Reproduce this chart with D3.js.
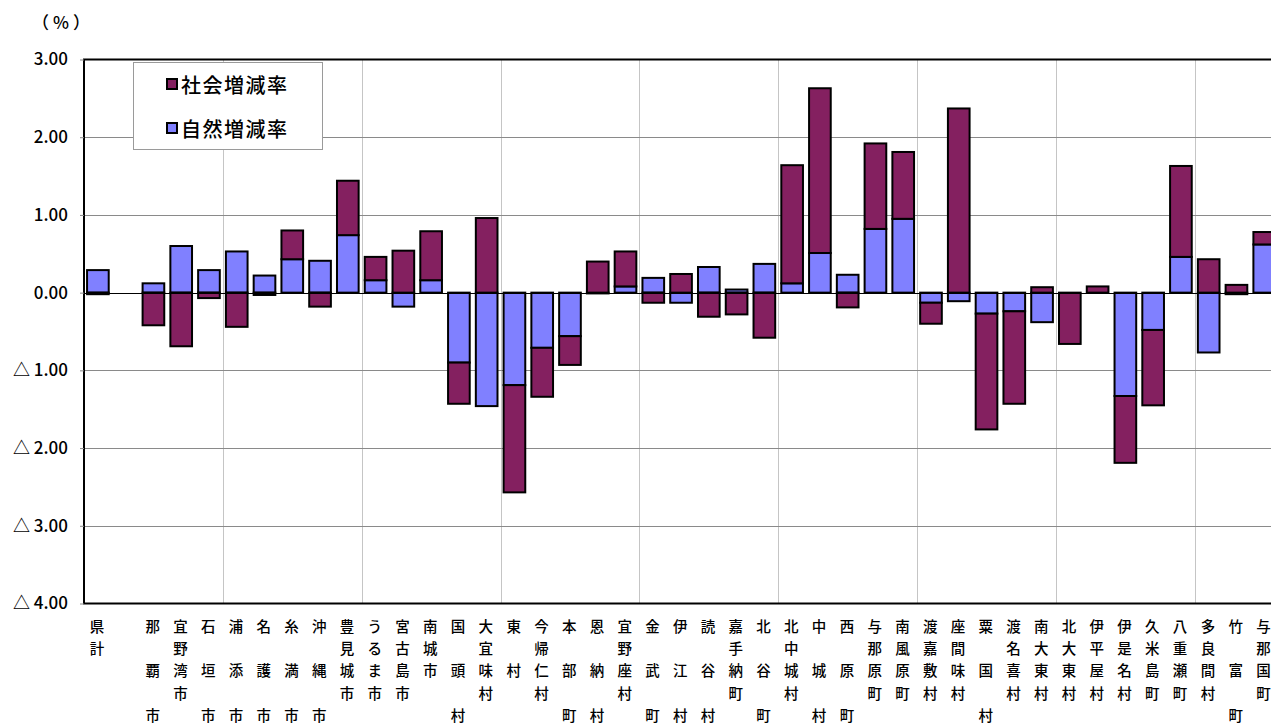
<!DOCTYPE html>
<html>
<head>
<meta charset="utf-8">
<script src="https://cdn.jsdelivr.net/npm/d3@7"></script>
<style>
  html, body { margin: 0; padding: 0; background: #fff; }
  svg { display: block; }
  text { font-family: "Noto Sans CJK JP", "Noto Sans", sans-serif; fill: #000; }
</style>
</head>
<body>
<svg id="chart" width="1271" height="725"></svg>
<script>
// ---- data ----
const categories = ["県計","","那　覇　市","宜野湾市","石　垣　市","浦　添　市","名　護　市","糸　満　市","沖　縄　市","豊見城市","うるま市","宮古島市","南城市","国　頭　村","大宜味村","東　村","今帰仁村","本　部　町","恩　納　村","宜野座村","金　武　町","伊　江　村","読　谷　村","嘉手納町","北　谷　町","北中城村","中　城　村","西　原　町","与那原町","南風原町","渡嘉敷村","座間味村","粟　国　村","渡名喜村","南大東村","北大東村","伊平屋村","伊是名村","久米島町","八重瀬町","多良間村","竹　富　町","与那国町"];
const naturalRate = [0.29,0,0.12,0.60,0.29,0.53,0.22,0.43,0.41,0.74,0.16,-0.18,0.16,-0.90,-1.46,-1.19,-0.71,-0.56,-0.01,0.08,0.19,-0.13,0.33,0.04,0.37,0.12,0.51,0.23,0.82,0.95,-0.13,-0.11,-0.27,-0.24,-0.38,0.00,0.00,-1.33,-0.48,0.46,-0.77,-0.02,0.62];
const socialRate  = [-0.02,0,-0.42,-0.69,-0.07,-0.44,-0.03,0.37,-0.18,0.70,0.30,0.54,0.63,-0.53,0.96,-1.38,-0.63,-0.37,0.40,0.45,-0.13,0.24,-0.31,-0.28,-0.58,1.52,2.12,-0.19,1.10,0.86,-0.27,2.37,-1.49,-1.19,0.07,-0.66,0.08,-0.86,-0.97,1.17,0.43,0.10,0.16];
const seriesNames = ["自然増減率","社会増減率"];
const yTicks = [-4,-3,-2,-1,0,1,2,3];
const yTickLabels = ["△ 4.00","△ 3.00","△ 2.00","△ 1.00","0.00","1.00","2.00","3.00"];
const unitLabel = "（%）";
const legendOrder = ["社会増減率","自然増減率"];

// ---- layout ----
const colors = { "自然増減率": "#8080FF", "社会増減率": "#842060" };
const plot = { left: 84, top: 59.5, bottom: 603.5, right: 84 + 43 * 27.77 };

const svg = d3.select("#chart");

const rows = categories.map((c, i) => ({ cat: c, "自然増減率": naturalRate[i], "社会増減率": socialRate[i] }));

const x = d3.scaleBand().domain(categories).range([plot.left, plot.right])
  .paddingInner(0.22).paddingOuter(0.11);
const y = d3.scaleLinear().domain([-4, 3]).range([plot.bottom, plot.top]);

// horizontal gridlines
svg.append("g").selectAll("line")
  .data(yTicks.filter(v => v !== 0 && v !== 3 && v !== -4))
  .join("line")
  .attr("x1", plot.left).attr("x2", plot.right)
  .attr("y1", d => Math.round(y(d)) + 0.5).attr("y2", d => Math.round(y(d)) + 0.5)
  .attr("stroke", "#8a8a8a").attr("stroke-width", 1);

// vertical dotted gridlines every 5 categories
const step = x.step();
const boundaries = d3.range(5, categories.length, 5).map(i => x(categories[i]) - (step - x.bandwidth()) / 2);
svg.append("g").selectAll("line")
  .data(boundaries)
  .join("line")
  .attr("x1", d => Math.round(d) + 0.5).attr("x2", d => Math.round(d) + 0.5)
  .attr("y1", plot.top).attr("y2", plot.bottom)
  .attr("stroke", "#8a8a8a").attr("stroke-width", 1).attr("stroke-dasharray", "1,1");

// stacked bars
const stack = d3.stack().keys(seriesNames).offset(d3.stackOffsetDiverging);
const stacked = stack(rows);
svg.append("g").selectAll("g")
  .data(stacked)
  .join("g")
  .attr("fill", d => colors[d.key])
  .selectAll("rect")
  .data(d => d.filter(p => p.data.cat !== "" && p[1] !== p[0]))
  .join("rect")
  .attr("x", d => x(d.data.cat))
  .attr("width", x.bandwidth())
  .attr("y", d => y(Math.max(d[0], d[1])))
  .attr("height", d => Math.abs(y(d[0]) - y(d[1])))
  .attr("stroke", "#000").attr("stroke-width", 2);

// zero line
svg.append("line")
  .attr("x1", plot.left).attr("x2", plot.right)
  .attr("y1", Math.round(y(0)) + 0.5).attr("y2", Math.round(y(0)) + 0.5)
  .attr("stroke", "#000").attr("stroke-width", 1);

// plot border
svg.append("rect")
  .attr("x", plot.left).attr("y", plot.top)
  .attr("width", plot.right - plot.left).attr("height", plot.bottom - plot.top)
  .attr("fill", "none").attr("stroke", "#000").attr("stroke-width", 2);

// y axis
const yAxis = d3.axisLeft(y).tickValues(yTicks)
  .tickFormat((d, i) => yTickLabels[i]).tickSize(4).tickPadding(12);
const ya = svg.append("g").attr("transform", `translate(${plot.left},0)`).call(yAxis);
ya.select(".domain").remove();
ya.selectAll(".tick line").attr("stroke", "#8a8a8a");
ya.selectAll(".tick text").attr("font-size", 17).attr("font-weight", 500)
  .attr("font-family", "\"Noto Sans CJK JP\", sans-serif").attr("fill", "#000")
  .style("white-space", "pre");

// unit label
svg.append("text").attr("x", 63).attr("y", 21).attr("text-anchor", "middle")
  .attr("dominant-baseline", "central").attr("font-size", 17).attr("font-weight", 500)
  .attr("letter-spacing", "4px").text(unitLabel);

// category labels (vertical, one character per row)
const lab = svg.append("g");
categories.forEach(c => {
  const cx = x(c) + x.bandwidth() / 2 - 0.8;
  Array.from(c).forEach((ch, r) => {
    if (ch === "　") return;
    lab.append("text").attr("x", cx).attr("y", 625 + r * 22.4)
      .attr("text-anchor", "middle").attr("dominant-baseline", "central")
      .attr("font-size", 14.5).attr("font-weight", 500).text(ch);
  });
});

// legend
const lg = svg.append("g");
lg.append("rect").attr("x", 133.5).attr("y", 62.5).attr("width", 189).attr("height", 87)
  .attr("fill", "#fff").attr("stroke", "#9a9a9a").attr("stroke-width", 1);
legendOrder.forEach((name, i) => {
  const cy = 84 + i * 44;
  lg.append("rect").attr("x", 167).attr("y", cy - 5).attr("width", 10).attr("height", 10)
    .attr("fill", colors[name]).attr("stroke", "#000").attr("stroke-width", 2);
  lg.append("text").attr("x", 181).attr("y", cy).attr("dominant-baseline", "central")
    .attr("font-size", 20).attr("font-weight", 500).attr("letter-spacing", "1.5px").text(name);
});
</script>
</body>
</html>
